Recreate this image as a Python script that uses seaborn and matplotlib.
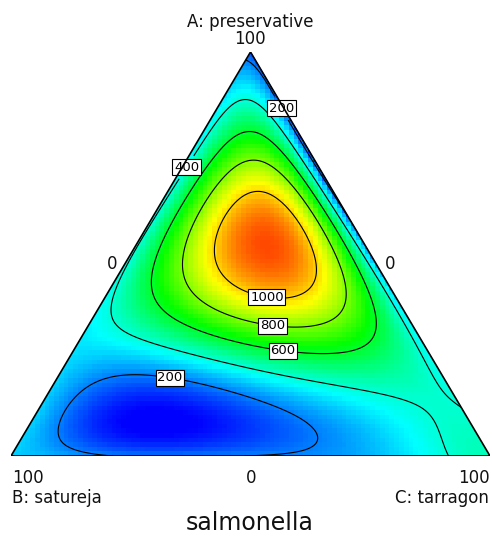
import numpy as np
import matplotlib
matplotlib.use("Agg")
import matplotlib.pyplot as plt
from matplotlib.patches import Polygon
import seaborn as sns

# readings: A (preservative %) and C (tarragon %), B = 100 - A - C
comp_a = ([100.0]
          + [97.3] * 3
          + [95.0] * 3
          + [88.0] * 6
          + [81.4] * 6
          + [75.2] * 8
          + [67.8] * 11
          + [60.9] * 13
          + [53.5] * 12
          + [46.0] * 12
          + [38.6] * 11
          + [31.2] * 9
          + [26.2] * 10
          + [18.8] * 11
          + [10.2] * 13
          + [4.0] * 10
          + [0.0] * 9)
comp_c = ([0.0,
           0.0, 1.35, 2.7,
           0.0, 2.4, 5.0,
           0.0, 2.7, 5.8, 8.3, 10.4, 11.9,
           0.0, 2.3, 9.2, 16.1, 17.5, 18.6,
           0.0, 1.9, 6.5, 12.3, 18.6, 21.7, 23.4, 24.7,
           0.0, 1.8, 5.1, 9.7, 16.0, 19.1, 24.3, 27.7, 30.4, 31.6, 32.2,
           0.0, 1.3, 4.4, 8.6, 13.6, 20.5, 24.0, 27.2, 31.6, 34.5, 36.8, 38.4, 39.1,
           0.0, 1.0, 5.4, 10.2, 15.4, 24.2, 30.0, 36.1, 40.9, 43.6, 45.5, 46.5,
           0.0, 0.8, 7.5, 12.9, 19.6, 24.0, 29.0, 40.9, 45.7, 48.8, 51.9, 54.0,
           0.0, 2.0, 11.2, 17.0, 27.5, 32.7, 41.0, 51.0, 56.9, 60.2, 61.4,
           0.0, 9.2, 21.1, 34.3, 44.7, 57.3, 61.4, 65.6, 68.8,
           0.0, 7.6, 27.4, 36.8, 47.2, 55.6, 61.8, 68.1, 71.9, 73.8,
           0.0, 7.1, 11.3, 19.6, 30.0, 40.5, 50.9, 61.4, 71.8, 79.1, 81.2,
           0.0, 4.8, 7.2, 13.5, 24.0, 34.4, 44.8, 55.3, 65.7, 76.1, 82.4, 86.6, 89.9,
           0.0, 8.3, 16.6, 27.0, 41.7, 58.4, 63.6, 75.0, 90.7, 96.0,
           0.0, 10.2, 22.8, 39.5, 58.2, 66.6, 81.2, 94.2, 100.0])
salmonella = ([170,
               200, 200, 175,
               240, 250, 165,
               330, 380, 400, 350, 250, 180,
               375, 400, 600, 400, 200, 180,
               390, 400, 600, 800, 600, 400, 200, 180,
               395, 400, 600, 800, 1000, 980, 800, 600, 400, 220, 185,
               395, 400, 600, 800, 1000, 1050, 1050, 1000, 800, 600, 400, 210, 190,
               395, 400, 600, 800, 1000, 1080, 1060, 1000, 800, 600, 400, 195,
               390, 400, 600, 800, 1000, 1050, 1050, 1000, 800, 600, 400, 205,
               375, 400, 600, 800, 1000, 1030, 1000, 800, 600, 400, 330,
               340, 400, 600, 760, 790, 680, 600, 450, 360,
               310, 340, 400, 520, 590, 600, 540, 440, 400, 360,
               290, 215, 180, 110, 200, 300, 395, 460, 450, 400, 380,
               290, 240, 190, 110, 60, 90, 150, 210, 290, 360, 400, 430, 400,
               295, 200, 110, 75, 120, 180, 200, 300, 410, 420,
               300, 240, 195, 185, 195, 230, 320, 410, 440])
levels = [200, 400, 600, 800, 1000]


def design(a, c, deg=6):
    cols = [a ** i * c ** j for i in range(deg + 1) for j in range(deg + 1 - i)]
    return np.stack(cols, axis=-1)


a_obs = np.array(comp_a) / 100
c_obs = np.array(comp_c) / 100
coef, *_ = np.linalg.lstsq(design(a_obs, c_obs), np.array(salmonella, float), rcond=None)


def predict(a, c):
    return design(a, c) @ coef


sns.set_style("white")
plt.rcParams["font.family"] = ["DejaVu Sans"]
cmap = sns.blend_palette(["#0000ff", "#00ffff", "#00ff00", "#ffff00", "#ff0000"], as_cmap=True)

fig = plt.figure(figsize=(4.92, 5.36), dpi=100)
ax = fig.add_axes([11 / 492, 80 / 536, 479 / 492, 404 / 536])
ax.set_xlim(0, 1)
ax.set_ylim(0, 1)
ax.axis("off")

corners = [[0, 0], [1, 0], [0.5, 1]]
clip = Polygon(corners, closed=True, transform=ax.transData)

# blocky colour map
xe = np.linspace(0, 1, 101)
ye = np.linspace(0, 1, 89)
XC, YC = np.meshgrid((xe[:-1] + xe[1:]) / 2, (ye[:-1] + ye[1:]) / 2)
Z = predict(YC, XC - YC / 2)
mesh = ax.pcolormesh(xe, ye, Z, cmap=cmap, vmin=50, vmax=1250, shading="flat")
mesh.set_clip_path(clip)

# smooth contour lines
XF, YF = np.meshgrid(np.linspace(0, 1, 500), np.linspace(0, 1, 500))
ZF = predict(YF, XF - YF / 2)
outside = (YF > 2 * XF + 0.01) | (YF > 2 * (1 - XF) + 0.01)
ZF = np.ma.masked_where(outside, ZF)
cs = ax.contour(XF, YF, ZF, levels=levels, colors="black", linewidths=0.8)
cs.set_clip_path(clip)
label_pos = [(0.572, 0.866), (0.359, 0.720), (0.5365, 0.411),
             (0.547, 0.334), (0.568, 0.267), (0.336, 0.223)]
texts = ax.clabel(cs, fmt="%d", fontsize=9.5, manual=label_pos, inline=True, inline_spacing=1)
for t in texts:
    t.set_rotation(0)
    t.set_bbox(dict(boxstyle="square,pad=0.12", fc="white", ec="black", lw=0.8))

ax.add_patch(Polygon(corners, closed=True, fill=False, edgecolor="black", lw=1.2, zorder=5))

kw = dict(fontsize=12, color="#111111", va="center")
fig.text(250 / 492, 1 - 22 / 536, "A: preservative", ha="center", **kw)
fig.text(250 / 492, 1 - 39 / 536, "100", ha="center", **kw)
fig.text(112 / 492, 1 - 264 / 536, "0", ha="center", **kw)
fig.text(390 / 492, 1 - 264 / 536, "0", ha="center", **kw)
fig.text(12 / 492, 1 - 478 / 536, "100", ha="left", **kw)
fig.text(251 / 492, 1 - 478 / 536, "0", ha="center", **kw)
fig.text(490 / 492, 1 - 478 / 536, "100", ha="right", **kw)
fig.text(12 / 492, 1 - 498 / 536, "B: satureja", ha="left", **kw)
fig.text(489 / 492, 1 - 498 / 536, "C: tarragon", ha="right", **kw)
fig.text(250 / 492, 1 - 523 / 536, "salmonella", ha="center", fontsize=17, color="#111111", va="center")

fig.savefig("out.png", dpi=100)
